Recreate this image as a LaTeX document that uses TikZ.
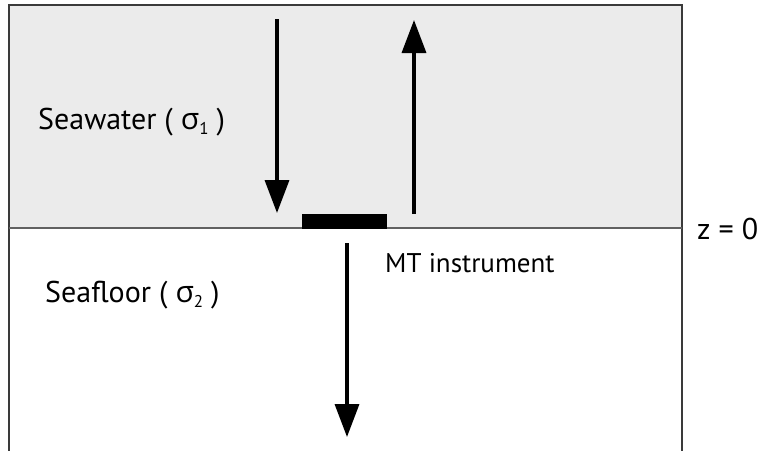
\documentclass[tikz,border=0pt]{standalone}
\usepackage{fontspec}
\setmainfont{PT Sans}
\newfontfamily\grk{Open Sans}
\usetikzlibrary{arrows.meta}
\definecolor{seagray}{HTML}{EBEBEB}
\definecolor{framegray}{HTML}{3A3A3A}
\newcommand{\sgm}[1]{{\grk σ}\raisebox{-0.35ex}{\fontsize{17}{20}\selectfont #1}}
\tikzset{
  biglabel/.style={font=\fontsize{30}{34}\selectfont, inner sep=0pt, anchor=west},
  smalllabel/.style={font=\fontsize{27}{31}\selectfont, inner sep=0pt, anchor=west},
  bigarrow/.style={line width=3.5pt, -{Triangle[length=33pt, width=24pt]}},
}
\begin{document}
\begin{tikzpicture}[x=1pt, y=-1pt]
\useasboundingbox (0,0) rectangle (760,450);
\fill[seagray] (9,5) rectangle (682,228);
\draw[framegray, line width=2pt] (9,451) -- (9,5) -- (682,5) -- (682,451);
\draw[framegray!80, line width=2pt] (9,228) -- (682,228);
\node (instr) [fill=black, inner sep=0pt, minimum width=85pt, minimum height=15pt] at (344.5,221.5) {};
\coordinate (a1s) at (277,19);
\coordinate (a1e) at (277,213);
\coordinate (a2s) at (414,214);
\coordinate (a2e) at (414,20);
\coordinate (a3s) at (347,243);
\coordinate (a3e) at (347,437);
\draw[bigarrow] (a1s) -- (a1e);
\draw[bigarrow] (a2s) -- (a2e);
\draw[bigarrow] (a3s) -- (a3e);
\node (sw) [biglabel] at (38,122) {Seawater ( \sgm{1} )};
\node (sf) [biglabel] at (45,295) {Seafloor ( \sgm{2} )};
\node (mt) [smalllabel] at (385,263) {MT instrument};
\node (z0) [biglabel] at (697,229) {z = 0};
\end{tikzpicture}
\end{document}
